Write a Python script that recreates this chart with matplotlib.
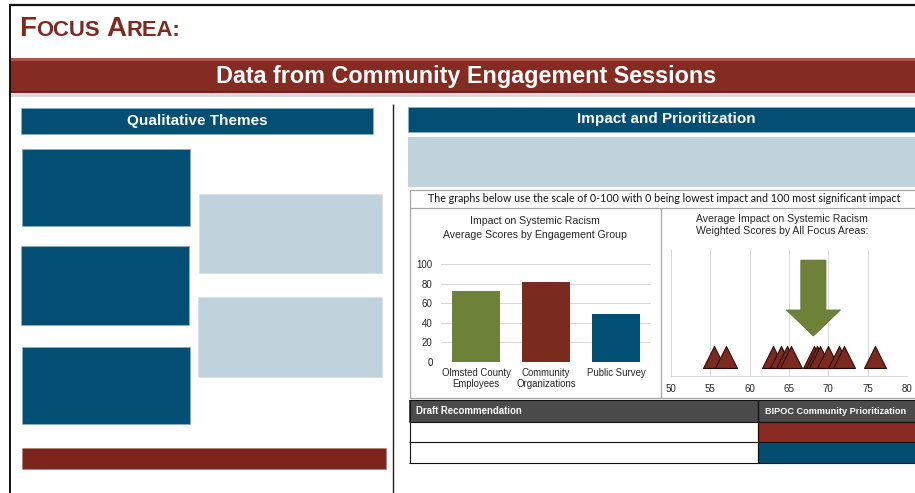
import matplotlib
matplotlib.use('Agg')
import matplotlib.pyplot as plt
from matplotlib.patches import Rectangle, Polygon
import matplotlib.transforms as mtransforms

W, H = 915, 493
DPI = 100

# ---------------- data ----------------
groups = ['Olmsted County\nEmployees', 'Community\nOrganizations', 'Public Survey']
group_scores = [72, 82, 49]
bar_yticks = [0, 20, 40, 60, 80, 100]

focus_area_scores = [55.5, 57.0, 63.0, 64.0, 64.8, 65.2, 68.2, 68.6, 69.0, 70.0, 71.3, 72.0, 75.9]
current_focus_score = 68.1
scatter_xticks = [50, 55, 60, 65, 70, 75, 80]

# ---------------- colours ----------------
RED = '#7E2A21'
BANNER = '#842B22'
BLUE = '#034E73'
LIGHT = '#C0D2DC'
GREEN = '#6E8139'
bar_colors = [GREEN, '#7B2A20', BLUE]

SANS = ['Liberation Sans', 'DejaVu Sans']

fig = plt.figure(figsize=(W / DPI, H / DPI), dpi=DPI)
bg = fig.add_axes([0, 0, 1, 1])
bg.set_xlim(0, W)
bg.set_ylim(H, 0)
bg.axis('off')


def px(x0, y0, x1, y1):
    return [x0 / W, 1 - y1 / H, (x1 - x0) / W, (y1 - y0) / H]


def rect(x0, y0, x1, y1, fc, ec='none', lw=0, z=1):
    bg.add_patch(Rectangle((x0, y0), x1 - x0, y1 - y0, facecolor=fc,
                           edgecolor=ec, linewidth=lw, zorder=z))


def line(xs, ys, c, lw, z=3):
    bg.plot(xs, ys, color=c, lw=lw, zorder=z, solid_capstyle='butt')


# ---------------- page frame ----------------
line([9, 915], [4.5, 4.5], '#111111', 1.6)
line([9.5, 9.5], [4, 493], '#111111', 1.4)

# Focus area title (small caps)
r = fig.canvas.get_renderer()
x = 19.5
pieces = [('F', 20), ('OCUS', 15.8), (None, 15.8), ('A', 20), ('REA:', 15.8)]
for s, fs in pieces:
    if s is None:
        x += 0.28 * fs * DPI / 72
        continue
    t = bg.text(x, 36.5, s, fontsize=fs, fontweight='bold', color=RED,
                family=SANS, ha='left', va='baseline', zorder=5)
    x = t.get_window_extent(renderer=r).x1

# Banner
rect(10, 93, 915, 97, '#d9d9d9', z=1)
rect(10, 58, 915, 93, BANNER, z=2)
rect(10, 58, 915, 60.5, '#b0544a', z=2)
rect(10, 90.5, 915, 93, '#6e231c', z=2)
bg.text(466, 76.5, 'Data from Community Engagement Sessions', fontsize=16.8,
        fontweight='bold', color='white', family=SANS, ha='center',
        va='center', zorder=5)

# ---------------- left panel ----------------
line([393, 393], [104, 493], '#222222', 1.0)
rect(21, 108, 373, 134, BLUE, ec='#8fb0c4', lw=0.5)
bg.text(197, 121.5, 'Qualitative Themes', fontsize=11, fontweight='bold',
        color='white', family=SANS, ha='center', va='center', zorder=5)
for (x0, y0, x1, y1) in [(22, 149, 190, 226), (21, 246, 189, 325), (22, 347, 190, 424)]:
    rect(x0, y0, x1, y1, BLUE, ec='#8fb0c4', lw=0.5)
for (x0, y0, x1, y1) in [(199, 194, 382, 273), (198, 297, 382, 377)]:
    rect(x0, y0, x1, y1, LIGHT, ec='#d6e2e9', lw=0.5)
rect(22, 448, 386, 469, '#7B251D', ec='#b27a74', lw=0.4)

# ---------------- right panel ----------------
rect(408, 107, 916, 132, BLUE, ec='#8fb0c4', lw=0.5)
bg.text(666, 119.5, 'Impact and Prioritization', fontsize=11,
        fontweight='bold', color='white', family=SANS, ha='center',
        va='center', zorder=5)
rect(408, 137, 916, 187, LIGHT)

# chart frame
GR = '#a6a6a6'
line([409.5, 916], [189.5, 189.5], GR, 0.9)
line([409.5, 916], [208, 208], GR, 0.9)
line([409.5, 916], [397.5, 397.5], GR, 0.9)
line([409.5, 409.5], [189.5, 397.5], GR, 0.9)
line([660.5, 660.5], [208, 397.5], GR, 0.9)
bg.text(664, 198.5, 'The graphs below use the scale of 0-100 with 0 being lowest '
        'impact and 100 most significant impact', fontsize=7.7,
        family=['Lato', 'DejaVu Sans'], color='#111111', ha='center',
        va='center', zorder=5)

# bar chart
bg.text(535, 221, 'Impact on Systemic Racism', fontsize=7.6, family=SANS,
        color='#262626', ha='center', va='center', zorder=5)
bg.text(535, 234.5, 'Average Scores by Engagement Group', fontsize=7.6,
        family=SANS, color='#262626', ha='center', va='center', zorder=5)
axb = fig.add_axes(px(441, 264, 651, 362))
axb.patch.set_alpha(0)
axb.bar(range(len(groups)), group_scores, width=0.69, color=bar_colors,
        zorder=3)
axb.set_xlim(-0.5, len(groups) - 0.5)
axb.set_ylim(0, 100)
axb.set_yticks(bar_yticks)
axb.set_xticks(range(len(groups)))
axb.set_xticklabels(groups, fontsize=6.9, family=SANS, color='#262626',
                    linespacing=1.15)
for lab in axb.get_yticklabels():
    lab.set_fontsize(7.0)
    lab.set_family(SANS)
    lab.set_color('#262626')
axb.grid(axis='y', color='#d9d9d9', lw=0.75, zorder=0)
for sp in axb.spines.values():
    sp.set_visible(False)
axb.tick_params(axis='y', length=0, pad=6.0)
axb.tick_params(axis='x', length=0, pad=4.5)

# scatter chart
bg.text(782, 219, 'Average Impact on Systemic Racism', fontsize=7.6,
        family=SANS, color='#262626', ha='center', va='center', zorder=5)
bg.text(782, 231.5, 'Weighted Scores by All Focus Areas:', fontsize=7.6,
        family=SANS, color='#262626', ha='center', va='center', zorder=5)
axs = fig.add_axes(px(671, 250, 907, 376))
axs.patch.set_alpha(0)
axs.set_xlim(scatter_xticks[0], scatter_xticks[-1])
axs.set_ylim(0, 1)
axs.set_xticks(scatter_xticks)
axs.set_yticks([])
axs.grid(axis='x', color='#d9d9d9', lw=0.75, zorder=0)
for k, sp in axs.spines.items():
    sp.set_visible(k == 'bottom')
axs.spines['bottom'].set_color('#d9d9d9')
axs.spines['bottom'].set_linewidth(0.75)
axs.tick_params(axis='x', length=0, pad=5.5, labelsize=7.0, colors='#262626')
for lab in axs.get_xticklabels():
    lab.set_family(SANS)
axs.scatter(focus_area_scores, [0.15] * len(focus_area_scores), marker='^',
            s=250, facecolor='#7B2A20', edgecolor='#2a0a08', linewidth=0.8,
            zorder=3, clip_on=False)
trans = mtransforms.blended_transform_factory(axs.transData, axs.transAxes)
cx = current_focus_score
sw, hw = 1.6, 3.45
verts = [(cx - sw, 0.92), (cx + sw, 0.92), (cx + sw, 0.524), (cx + hw, 0.524),
         (cx, 0.317), (cx - hw, 0.524), (cx - sw, 0.524)]
axs.add_patch(Polygon(verts, closed=True, transform=trans, facecolor=GREEN,
                      edgecolor='#5d6f2c', lw=0.5, zorder=4))

# table
rect(409, 400, 916, 422, '#4B4B4B', z=2)
rect(758, 422, 916, 442, '#8A2A22', z=2)
rect(758, 442, 916, 463, '#034D71', z=2)
K = '#111111'
for yy in [400, 422, 442, 463]:
    line([409, 916], [yy, yy], K, 0.8)
line([409.5, 409.5], [400, 463], K, 0.8)
line([758, 758], [400, 463], K, 0.9)
bg.text(416, 411.5, 'Draft Recommendation', fontsize=6.9, fontweight='bold',
        family=SANS, color='white', ha='left', va='center', zorder=5)
bg.text(765, 411.5, 'BIPOC Community Prioritization', fontsize=6.6,
        fontweight='bold', family=SANS, color='white', ha='left',
        va='center', zorder=5)

fig.savefig('out.png', dpi=DPI)
